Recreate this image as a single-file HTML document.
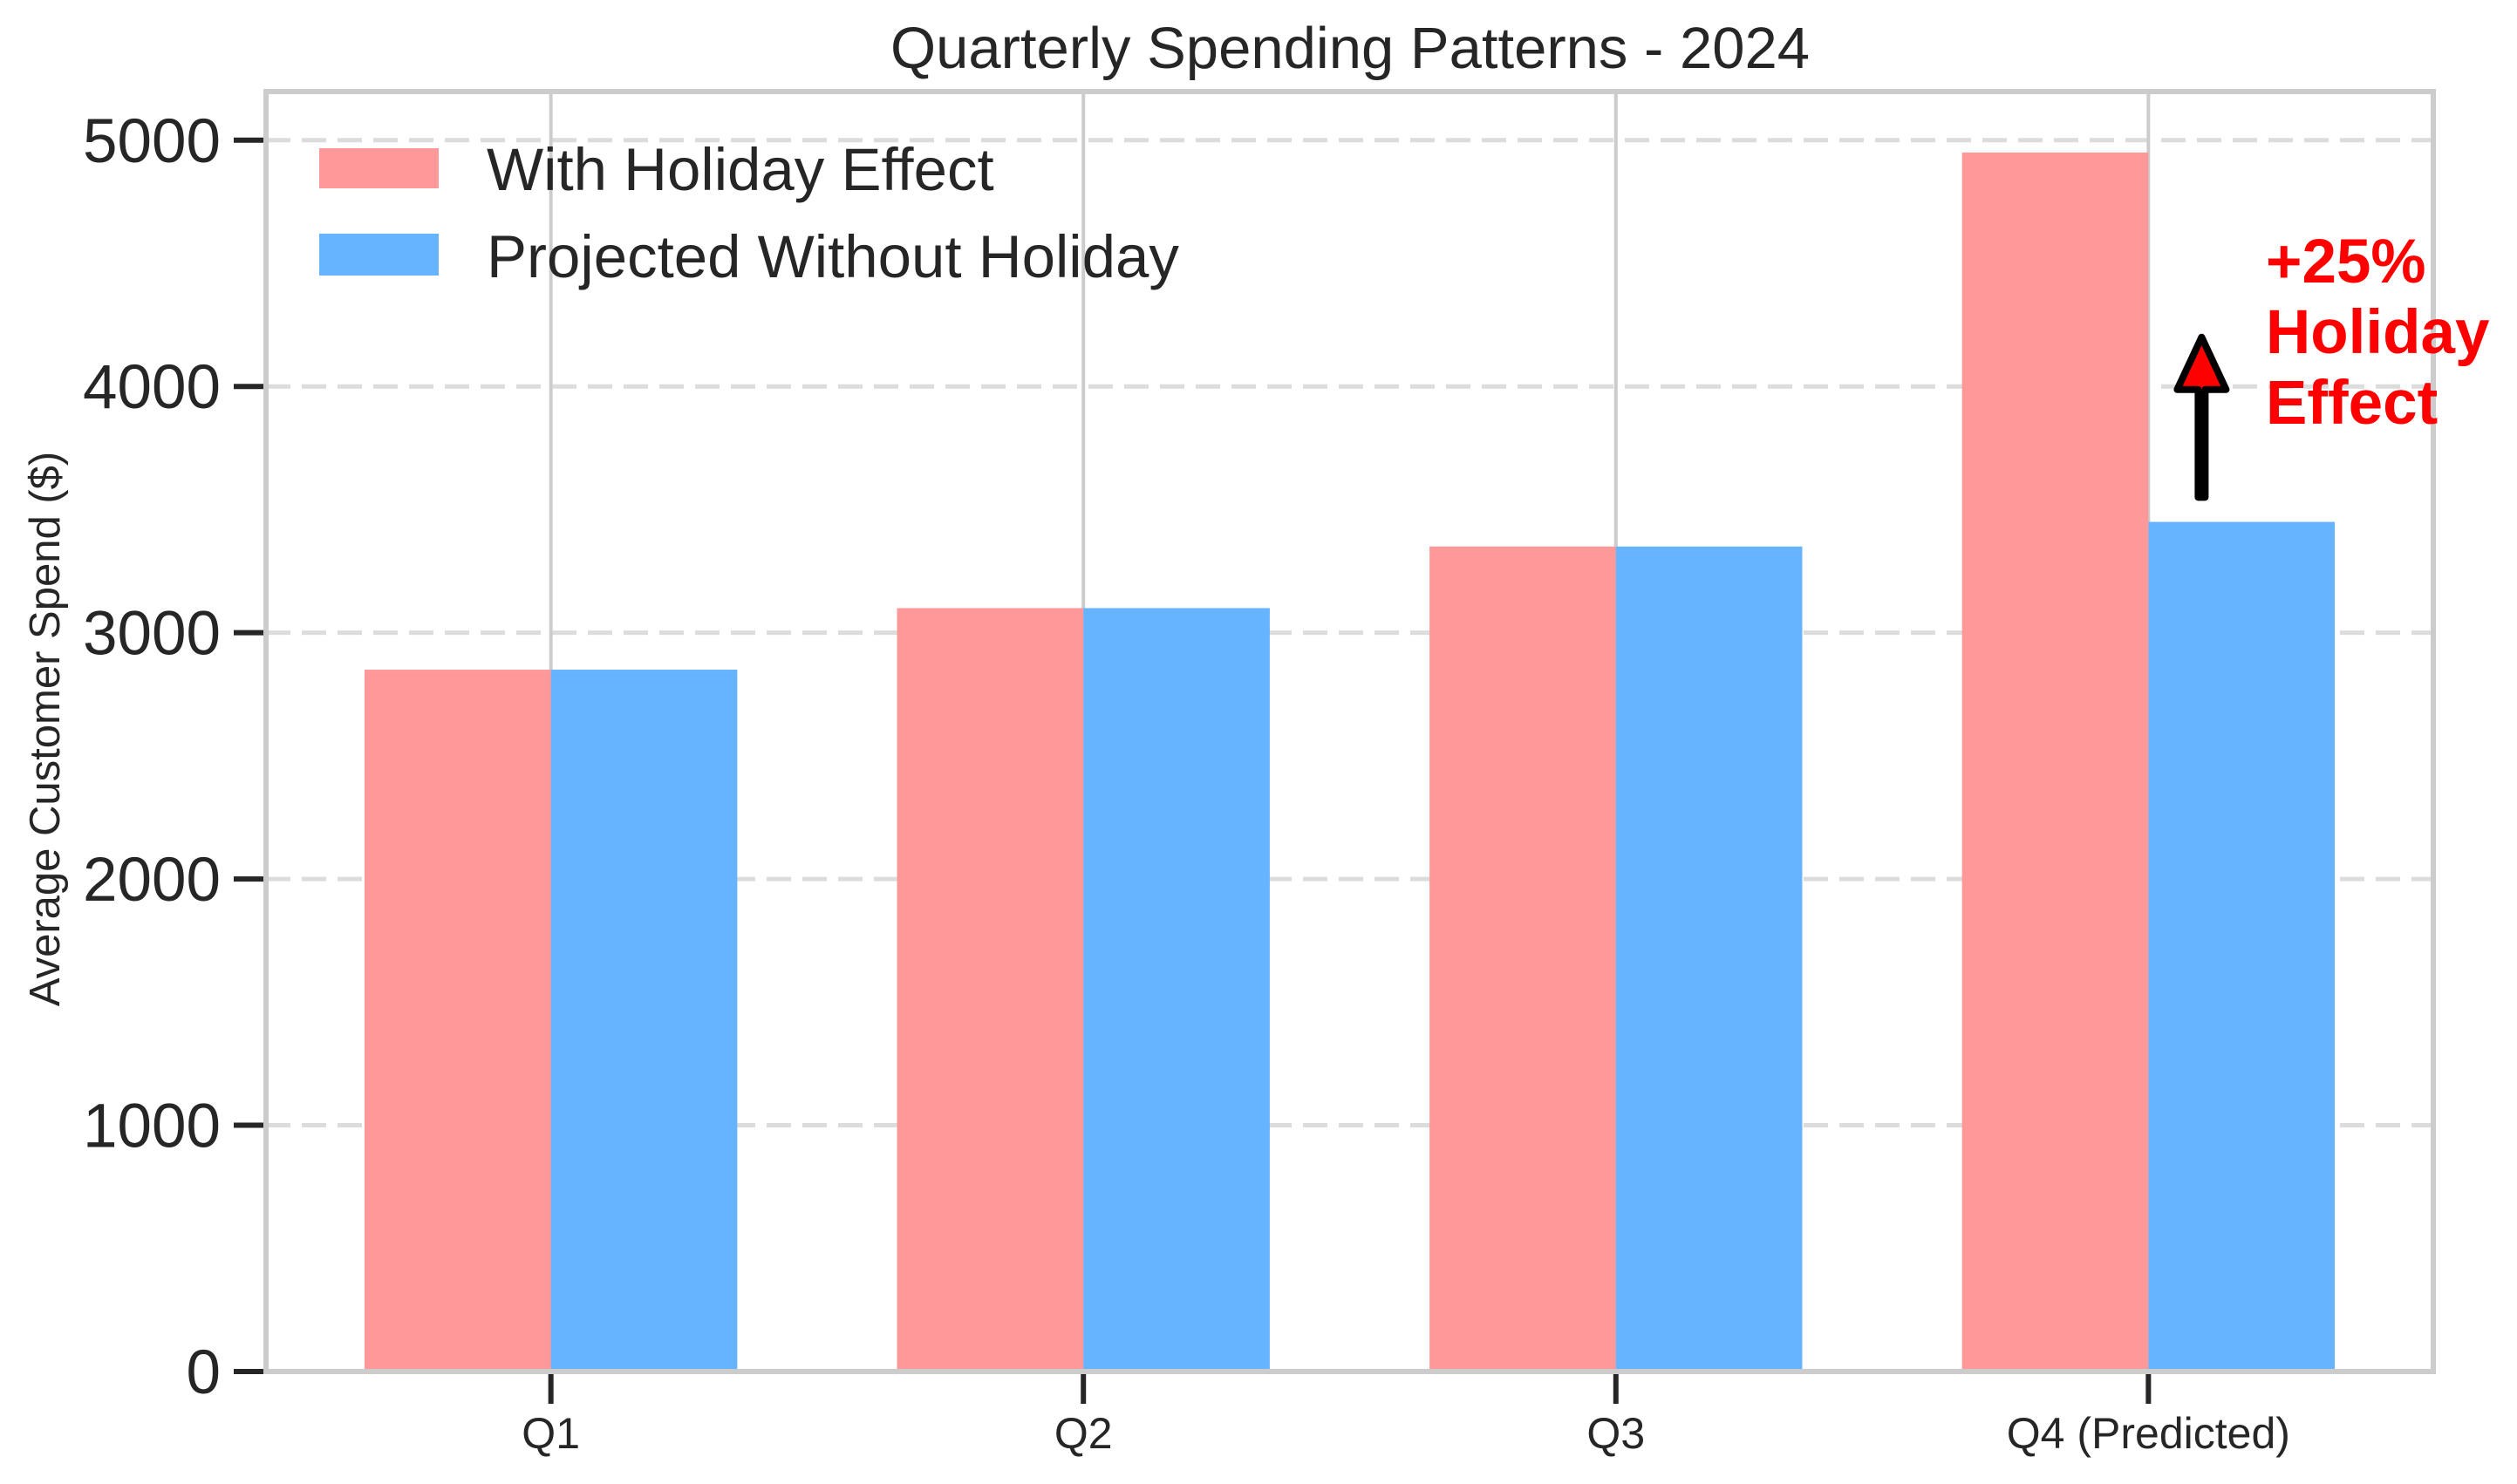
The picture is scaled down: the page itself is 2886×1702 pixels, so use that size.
<!DOCTYPE html>
<html><head><meta charset="utf-8">
<style>
html,body{margin:0;padding:0;background:#fff;}
svg{display:block;font-family:"Liberation Sans",Arial,sans-serif;}
</style></head>
<body>
<svg id="chart" width="2886" height="1702" viewBox="0 0 2886 1702" xmlns="http://www.w3.org/2000/svg">
<rect width="2886" height="1702" fill="#fff"/>
<g id="grid"></g>
<g id="bars"></g>
<g id="axes"></g>
<text x="1548" y="78" font-size="67" fill="#262626" text-anchor="middle">Quarterly Spending Patterns - 2024</text>
<text transform="translate(68,836) rotate(-90)" font-size="49" fill="#262626" text-anchor="middle">Average Customer Spend ($)</text>
<g>
  <rect x="366" y="170" width="137" height="46" fill="#ff9999"/>
  <text x="558" y="218" font-size="69" fill="#262626">With Holiday Effect</text>
  <rect x="366" y="268" width="137" height="48" fill="#66b3ff"/>
  <text x="558" y="318" font-size="69" fill="#262626">Projected Without Holiday</text>
</g>
<g id="annot"></g>
</svg>
<script>
const categories = ["Q1","Q2","Q3","Q4 (Predicted)"];
const withHoliday = [2850, 3100, 3350, 4950];
const withoutHoliday = [2850, 3100, 3350, 3450];
const yTicks = [0,1000,2000,3000,4000,5000];
const annotFrom = 3550, annotTo = 4200;

const L=305,R=2790,T=105,B=1573;
const xMin=-0.535,xMax=3.535,yMin=0,yMax=5197.5;
const xs=v=>L+(v-xMin)/(xMax-xMin)*(R-L);
const ys=v=>B-(v-yMin)/(yMax-yMin)*(B-T);
const NS="http://www.w3.org/2000/svg";
function mk(tag,attrs,parent){const e=document.createElementNS(NS,tag);for(const k in attrs)e.setAttribute(k,attrs[k]);parent.appendChild(e);return e;}
const grid=document.getElementById('grid'),bars=document.getElementById('bars'),axes=document.getElementById('axes'),annot=document.getElementById('annot');
const bw=0.35;
yTicks.forEach(t=>{
  if(t>0){const g=mk('line',{x1:L,x2:R,y1:ys(t),y2:ys(t),stroke:'#dcdcdc','stroke-width':5,'stroke-dasharray':'28 13'},grid);
  
  }
  const tk=mk('line',{x1:L-37,x2:L,y1:ys(t),y2:ys(t),stroke:'#262626','stroke-width':6},axes);
  
  
  const lb=mk('text',{x:L-52,y:ys(t)+25,'font-size':71,fill:'#262626','text-anchor':'end'},axes);
  lb.textContent=t;
  
  
});
categories.forEach((c,i)=>{
  const g=mk('line',{x1:xs(i),x2:xs(i),y1:T,y2:B,stroke:'#cccccc','stroke-width':4},grid);
  
  
  const r1=mk('rect',{x:xs(i-bw),y:ys(withHoliday[i]),width:xs(i)-xs(i-bw),height:ys(0)-ys(withHoliday[i]),fill:'#ff9999'},bars);
  
  
  const r2=mk('rect',{x:xs(i),y:ys(withoutHoliday[i]),width:xs(i+bw)-xs(i),height:ys(0)-ys(withoutHoliday[i]),fill:'#66b3ff'},bars);
  
  
  const tk=mk('line',{x1:xs(i),x2:xs(i),y1:B,y2:B+37,stroke:'#262626','stroke-width':6},axes);
  
  
  const lb=mk('text',{x:xs(i),y:B+88,'font-size':50,fill:'#262626','text-anchor':'middle'},axes);
  lb.textContent=c;
  
  
});
const sp=mk('rect',{x:L,y:T,width:R-L,height:B-T,fill:'none',stroke:'#cccccc','stroke-width':6},axes);


const ax=xs(3+0.1), y0=ys(annotFrom), y1=ys(annotTo);
const hh=60, hw=28;
const pts=[[ax-4,y0],[ax-4,y1+hh],[ax-hw,y1+hh],[ax,y1],[ax+hw,y1+hh],[ax+4,y1+hh],[ax+4,y0]].map(p=>p.join(',')).join(' ');
const arr=mk('polygon',{points:pts,fill:'#ff0000',stroke:'#000','stroke-width':8,'stroke-linejoin':'round'},annot);


["+25%","Holiday","Effect"].forEach((s,k)=>{
  const t=mk('text',{x:2598,y:324+k*81,'font-size':71,'font-weight':'bold',fill:'#ff0000'},annot);
  t.textContent=s;
  
  
});
</script>
</body></html>
